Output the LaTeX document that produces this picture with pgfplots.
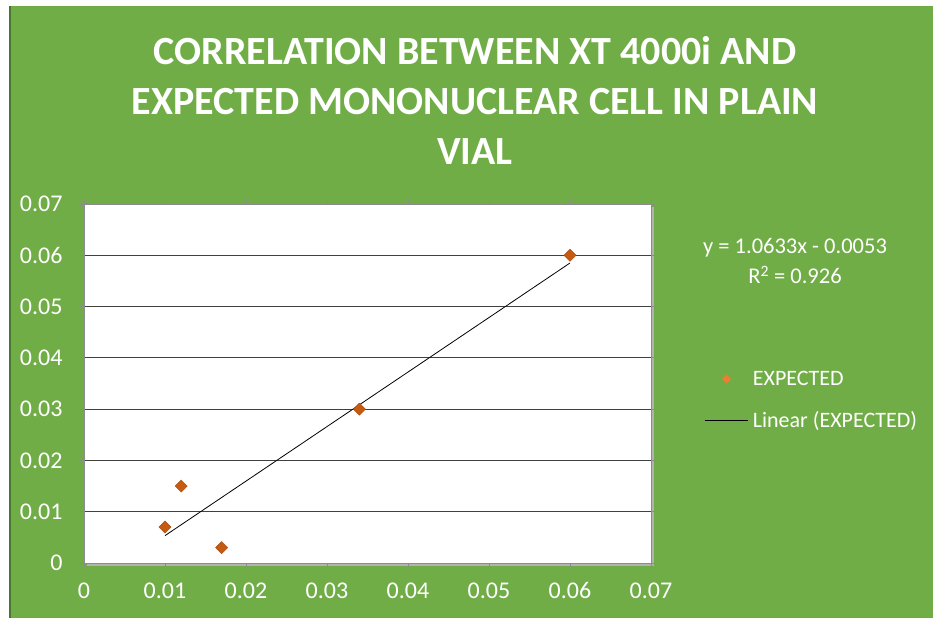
\documentclass[border=0pt]{standalone}
\usepackage{pgfplots}
\pgfplotsset{compat=1.18}
\usepackage{fontspec}
\setmainfont{Carlito}
\definecolor{bg}{RGB}{112,173,71}
\definecolor{bgdark}{RGB}{70,120,45}
\definecolor{mk}{RGB}{197,90,17}
\definecolor{lmk}{RGB}{237,125,49}
\pgfplotsset{
  markleg/.style={legend image code/.code={\draw[mark repeat=2,mark phase=2,##1,mark size=3pt,mark options={fill=lmk,draw=lmk,rotate=45}] plot coordinates {(0pt,0pt) (22pt,0pt) (44pt,0pt)};}},
  lineleg/.style={legend image code/.code={\draw[##1] (0pt,0pt) -- (43pt,0pt);}},
}
\begin{document}
\begin{tikzpicture}[x=1pt,y=1pt]
\fill[white] (-84,-58) rectangle (849,563);
\fill[bg] (-74,-55) rectangle (849,557);
\draw[bgdark,line width=1.2pt] (-74,-55) -- (-74,557);
\fill[black!30] (3,-3) rectangle (570,356);
\begin{axis}[
  at={(0,0)}, anchor=south west,
  scale only axis, width=567pt, height=359pt,
  xmin=0, xmax=0.07, ymin=0, ymax=0.07,
  xtick={0,0.01,...,0.07}, ytick={0,0.01,...,0.07},
  scaled ticks=false,
  xticklabel style={/pgf/number format/fixed,/pgf/number format/precision=2},
  yticklabel style={/pgf/number format/fixed,/pgf/number format/precision=2},
  /pgf/number format/assume math mode=true,
  tick label style={text=white, font=\fontsize{24}{28}\selectfont},
  xticklabel shift=11pt, yticklabel shift=13pt,
  tick align=outside, major tick length=5pt,
  tick style={black!45, line width=0.8pt},
  axis line style={black!45, line width=0.8pt},
  axis background/.style={fill=white},
  ymajorgrids, grid style={black!75, line width=1pt},
  clip=false,
  legend style={at={(rel axis cs:1.088,0.454)}, anchor=west, draw=none, fill=none,
    text=white, font=\fontsize{22}{26}\selectfont, row sep=20pt,
    cells={anchor=west}, nodes={inner xsep=5pt}},
]
\addplot[only marks, mark=square*, mark size=4.3pt, mark options={fill=mk, draw=mk!85!black, rotate=45}, markleg]
  coordinates {(0.010,0.007) (0.012,0.015) (0.017,0.003) (0.034,0.030) (0.060,0.060)};
\addlegendentry{EXPECTED}
\addplot[black, line width=0.8pt, lineleg]
  coordinates {(0.010,0.005333) (0.060,0.058498)};
\addlegendentry{Linear (EXPECTED)}
\end{axis}
\node[text=white, font=\fontsize{40}{50}\selectfont\bfseries, align=center] at (391,463)
  {CORRELATION BETWEEN XT 4000i AND\\EXPECTED MONONUCLEAR CELL IN PLAIN\\VIAL};
\node[text=white, font=\fontsize{22.5}{26}\selectfont] at (711,315) {y = 1.0633x - 0.0053};
\node[text=white, font=\fontsize{22.5}{26}\selectfont] at (711,288) {R\textsuperscript{2} = 0.926};
\end{tikzpicture}
\end{document}
